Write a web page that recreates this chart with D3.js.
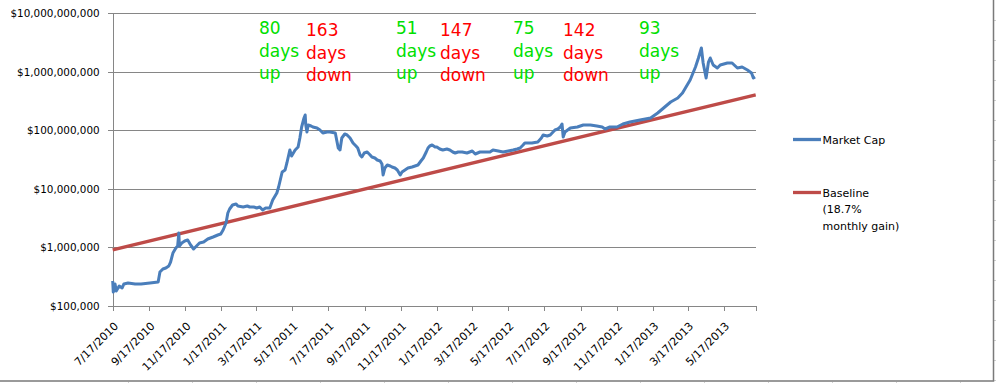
<!DOCTYPE html>
<html><head><meta charset="utf-8">
<script src="https://cdn.jsdelivr.net/npm/d3@7"></script>
<style>
html,body{margin:0;padding:0;background:#fff;}
svg{display:block;font-family:"DejaVu Sans",sans-serif;}
</style></head><body>
<svg id="chart" width="996" height="383"></svg>
<script>
// ---------- DATA ----------
const marketCapDates = [
  "7/17/2010","7/18/2010","7/21/2010","7/23/2010","7/28/2010",
  "8/2/2010","8/5/2010","8/12/2010","8/24/2010",
  "9/3/2010","9/18/2010",
  "10/2/2010","10/5/2010","10/10/2010","10/15/2010","10/20/2010","10/23/2010","10/27/2010",
  "11/1/2010","11/4/2010","11/6/2010","11/7/2010","11/11/2010","11/16/2010","11/21/2010","11/26/2010",
  "12/1/2010","12/6/2010","12/11/2010","12/18/2010","12/25/2010",
  "1/3/2011","1/11/2011","1/16/2011","1/20/2011","1/25/2011","1/28/2011","1/31/2011",
  "2/5/2011","2/11/2011","2/14/2011","2/23/2011",
  "3/2/2011","3/6/2011","3/13/2011","3/18/2011","3/23/2011","3/28/2011",
  "4/2/2011","4/9/2011","4/14/2011","4/21/2011","4/24/2011","4/30/2011",
  "5/5/2011","5/8/2011","5/13/2011","5/16/2011","5/22/2011","5/27/2011","5/30/2011",
  "6/2/2011","6/6/2011","6/8/2011","6/9/2011","6/11/2011","6/13/2011","6/18/2011","6/21/2011","6/28/2011",
  "7/3/2011","7/8/2011","7/15/2011","7/20/2011","7/29/2011",
  "8/3/2011","8/6/2011","8/9/2011","8/14/2011","8/18/2011","8/23/2011","8/28/2011",
  "9/2/2011","9/5/2011","9/9/2011","9/12/2011","9/16/2011","9/21/2011","9/26/2011","9/29/2011",
  "10/4/2011","10/8/2011","10/13/2011","10/16/2011","10/18/2011","10/21/2011","10/25/2011","10/30/2011",
  "11/2/2011","11/7/2011","11/11/2011","11/16/2011","11/19/2011","11/24/2011","11/29/2011",
  "12/6/2011","12/11/2011","12/16/2011","12/21/2011","12/25/2011","12/30/2011",
  "1/2/2012","1/5/2012","1/9/2012","1/14/2012","1/17/2012","1/22/2012","1/27/2012",
  "2/3/2012","2/8/2012","2/13/2012","2/17/2012","2/22/2012","2/29/2012",
  "3/8/2012","3/17/2012","3/22/2012","3/30/2012",
  "4/8/2012","4/16/2012","4/21/2012","4/30/2012",
  "5/8/2012","5/17/2012","5/25/2012",
  "6/1/2012","6/6/2012","6/11/2012","6/14/2012","6/26/2012",
  "7/6/2012","7/12/2012","7/15/2012","7/22/2012","7/27/2012",
  "8/4/2012","8/9/2012","8/13/2012","8/16/2012","8/18/2012","8/21/2012","8/30/2012",
  "9/11/2012","9/21/2012",
  "10/3/2012","10/14/2012","10/23/2012","10/28/2012",
  "11/5/2012","11/17/2012","11/27/2012",
  "12/9/2012","12/26/2012",
  "1/13/2013","1/25/2013",
  "2/4/2013","2/16/2013","2/28/2013",
  "3/8/2013","3/13/2013","3/21/2013","3/30/2013",
  "4/4/2013","4/9/2013","4/12/2013","4/17/2013","4/21/2013","4/24/2013","4/29/2013",
  "5/6/2013","5/11/2013","5/23/2013","5/31/2013",
  "6/9/2013","6/17/2013","6/26/2013",
  "7/3/2013","7/6/2013","7/9/2013"
];
// market cap in millions of dollars
const marketCapMillions = [
  0.267,0.173,0.238,0.180,0.220,
  0.203,0.238,0.247,0.238,
  0.238,0.247,
  0.257,0.381,0.429,0.446,0.482,0.564,0.804,
  0.979,1.059,1.766,1.059,1.192,1.289,1.341,1.102,
  0.941,1.059,1.192,1.240,1.395,
  1.509,1.632,1.698,1.988,2.617,3.880,4.539,
  5.313,5.526,5.109,4.912,
  5.109,4.912,4.912,4.722,4.912,4.363,
  4.722,4.722,6.468,8.518,10.78,19.45,
  21.05,27.73,46.22,36.51,46.22,52.01,74.08,
  114.2,162.7,183.1,123.6,93.83,123.6,118.8,114.2,109.8,
  101.5,90.21,93.83,93.83,90.21,
  50.00,46.22,74.08,86.76,83.39,74.08,60.85,
  54.10,50.00,37.96,35.10,41.08,42.72,37.96,35.10,
  33.75,31.19,29.99,26.66,17.29,22.77,25.63,24.64,
  23.68,22.77,21.05,17.29,19.45,21.05,22.77,
  23.68,24.64,25.63,29.99,33.75,42.72,
  50.00,54.10,56.27,52.01,52.01,48.07,46.22,
  48.07,46.22,42.72,41.08,42.72,42.72,
  41.08,44.44,39.49,42.72,
  42.72,42.72,46.22,44.44,
  42.72,44.44,46.22,
  48.07,50.00,56.27,60.85,60.85,
  63.30,74.08,83.39,80.16,83.39,
  101.5,105.6,114.2,128.5,77.06,93.83,109.8,
  114.2,123.6,
  123.6,118.8,114.2,105.6,
  114.2,114.2,128.5,
  139.1,150.4,
  162.7,198.1,
  241.2,305.3,357.4,
  435.0,529.4,725.5,1209,
  1724,2554,1416,784.9,1473,1724,1309,
  1163,1309,1416,1416,
  1163,1209,1075,
  955.5,784.9,816.4
];
const baselineDates = ["7/17/2010","7/10/2013"];
const baselineValues = [910000, 405000000];
const xDomainDates = ["7/17/2010","7/10/2013"];
const xTickLabels = ["7/17/2010","9/17/2010","11/17/2010","1/17/2011","3/17/2011","5/17/2011",
  "7/17/2011","9/17/2011","11/17/2011","1/17/2012","3/17/2012","5/17/2012",
  "7/17/2012","9/17/2012","11/17/2012","1/17/2013","3/17/2013","5/17/2013"];
const yTickValues = [1e5,1e6,1e7,1e8,1e9,1e10];
const seriesNames = ["Market Cap", "Baseline (18.7% monthly gain)"];
const legendLines = [["Market Cap"], ["Baseline","(18.7%","monthly gain)"]];
const annotationTexts = [["80","days","up"],["163","days","down"],["51","days","up"],
  ["147","days","down"],["75","days","up"],["142","days","down"],["93","days","up"]];
const annotationKinds = ["up","down","up","down","up","down","up"];

// ---------- LAYOUT / STYLE ----------
const parse = d3.timeParse("%m/%d/%Y");
const L = 112.7, R = 755.7, T = 13.3, B = 306;
const blue = "#4A7EBB", red = "#BE4B48", grid = "#868686";
const svg = d3.select("#chart");

const x = d3.scaleTime().domain(xDomainDates.map(parse)).range([L, R]);
const y = d3.scaleLog().domain([1e5, 1e10]).range([B, T]);

// outer frame & spreadsheet hints
const frame = svg.append("g");
d3.range(20, 381, 20).forEach(v => frame.append("line")
  .attr("x1", 994).attr("x2", 996).attr("y1", v + 0.5).attr("y2", v + 0.5)
  .attr("stroke", "#d0d0d0"));
d3.range(128, 996, 64).forEach(v => frame.append("line")
  .attr("x1", v + 0.5).attr("x2", v + 0.5).attr("y1", 382).attr("y2", 383)
  .attr("stroke", "#d0d0d0"));
frame.append("path").attr("d", "M0,381 H993.5 V0").attr("fill", "none")
  .attr("stroke", "#7a7a7a").attr("stroke-width", 1.5);

// gridlines
svg.append("g").attr("transform", `translate(${L},0)`)
  .call(d3.axisLeft(y).tickValues(yTickValues).tickSize(-(R - L)).tickFormat(""))
  .call(g => g.select(".domain").remove())
  .call(g => g.selectAll("line").attr("stroke", grid).attr("shape-rendering", "crispEdges"));

// y axis
svg.append("g").attr("transform", `translate(${L},0)`)
  .call(d3.axisLeft(y).tickValues(yTickValues).tickSize(5).tickPadding(8)
    .tickFormat(d => "$" + d3.format(",")(d)))
  .call(g => g.select(".domain").attr("stroke", grid).attr("shape-rendering", "crispEdges"))
  .call(g => g.selectAll("line").attr("stroke", grid).attr("shape-rendering", "crispEdges"))
  .call(g => g.selectAll("text").attr("font-size", "10.4px").attr("font-family", "DejaVu Sans").attr("fill", "#000"));

// x axis
const xa = svg.append("g").attr("transform", `translate(0,${B})`)
  .call(d3.axisBottom(x).tickValues(xTickLabels.map(parse)).tickSize(5)
    .tickFormat(d3.timeFormat("%-m/%-d/%Y")))
  .call(g => g.select(".domain").attr("stroke", grid).attr("shape-rendering", "crispEdges"))
  .call(g => g.selectAll("line").attr("stroke", grid).attr("shape-rendering", "crispEdges"));
xa.selectAll("text")
  .attr("font-size", "11px").attr("font-family", "DejaVu Sans").attr("fill", "#000")
  .attr("text-anchor", "end")
  .attr("y", 0).attr("dy", "0.35em")
  .attr("transform", "translate(3,18) rotate(-45)");

// series
const line = d3.line().x(d => x(d[0])).y(d => y(d[1]));
const mc = marketCapDates.map((d, i) => [parse(d), marketCapMillions[i] * 1e6]);
const bl = baselineDates.map((d, i) => [parse(d), baselineValues[i]]);

svg.append("path").datum(bl).attr("d", line).attr("fill", "none")
  .attr("stroke", red).attr("stroke-width", 3.3);
svg.append("path").datum(mc).attr("d", line).attr("fill", "none")
  .attr("stroke", blue).attr("stroke-width", 3).attr("stroke-linejoin", "round");

// annotations
const annX = [259, 306, 396, 440, 513, 563, 639];
const annBase = {up: 34, down: 36};
annotationTexts.forEach((lines, i) => {
  const kind = annotationKinds[i];
  const t = svg.append("text").attr("font-size", "17px").attr("font-family", "DejaVu Sans")
    .attr("fill", kind === "up" ? "#00E000" : "#FF0000");
  lines.forEach((s, j) => t.append("tspan").attr("x", annX[i])
    .attr("y", annBase[kind] + j * 22.7).text(s));
});

// legend
const legY = [139.5, 192.5];
const legColors = [blue, red];
legendLines.forEach((lines, i) => {
  svg.append("line").attr("x1", 793).attr("x2", 821).attr("y1", legY[i]).attr("y2", legY[i])
    .attr("stroke", legColors[i]).attr("stroke-width", 3.3);
  const t = svg.append("text").attr("font-size", "11px").attr("font-family", "DejaVu Sans").attr("fill", "#000");
  lines.forEach((s, j) => t.append("tspan").attr("x", 822.5).attr("y", legY[i] + 4 + j * 16.8).text(s));
});
</script>
</body></html>
